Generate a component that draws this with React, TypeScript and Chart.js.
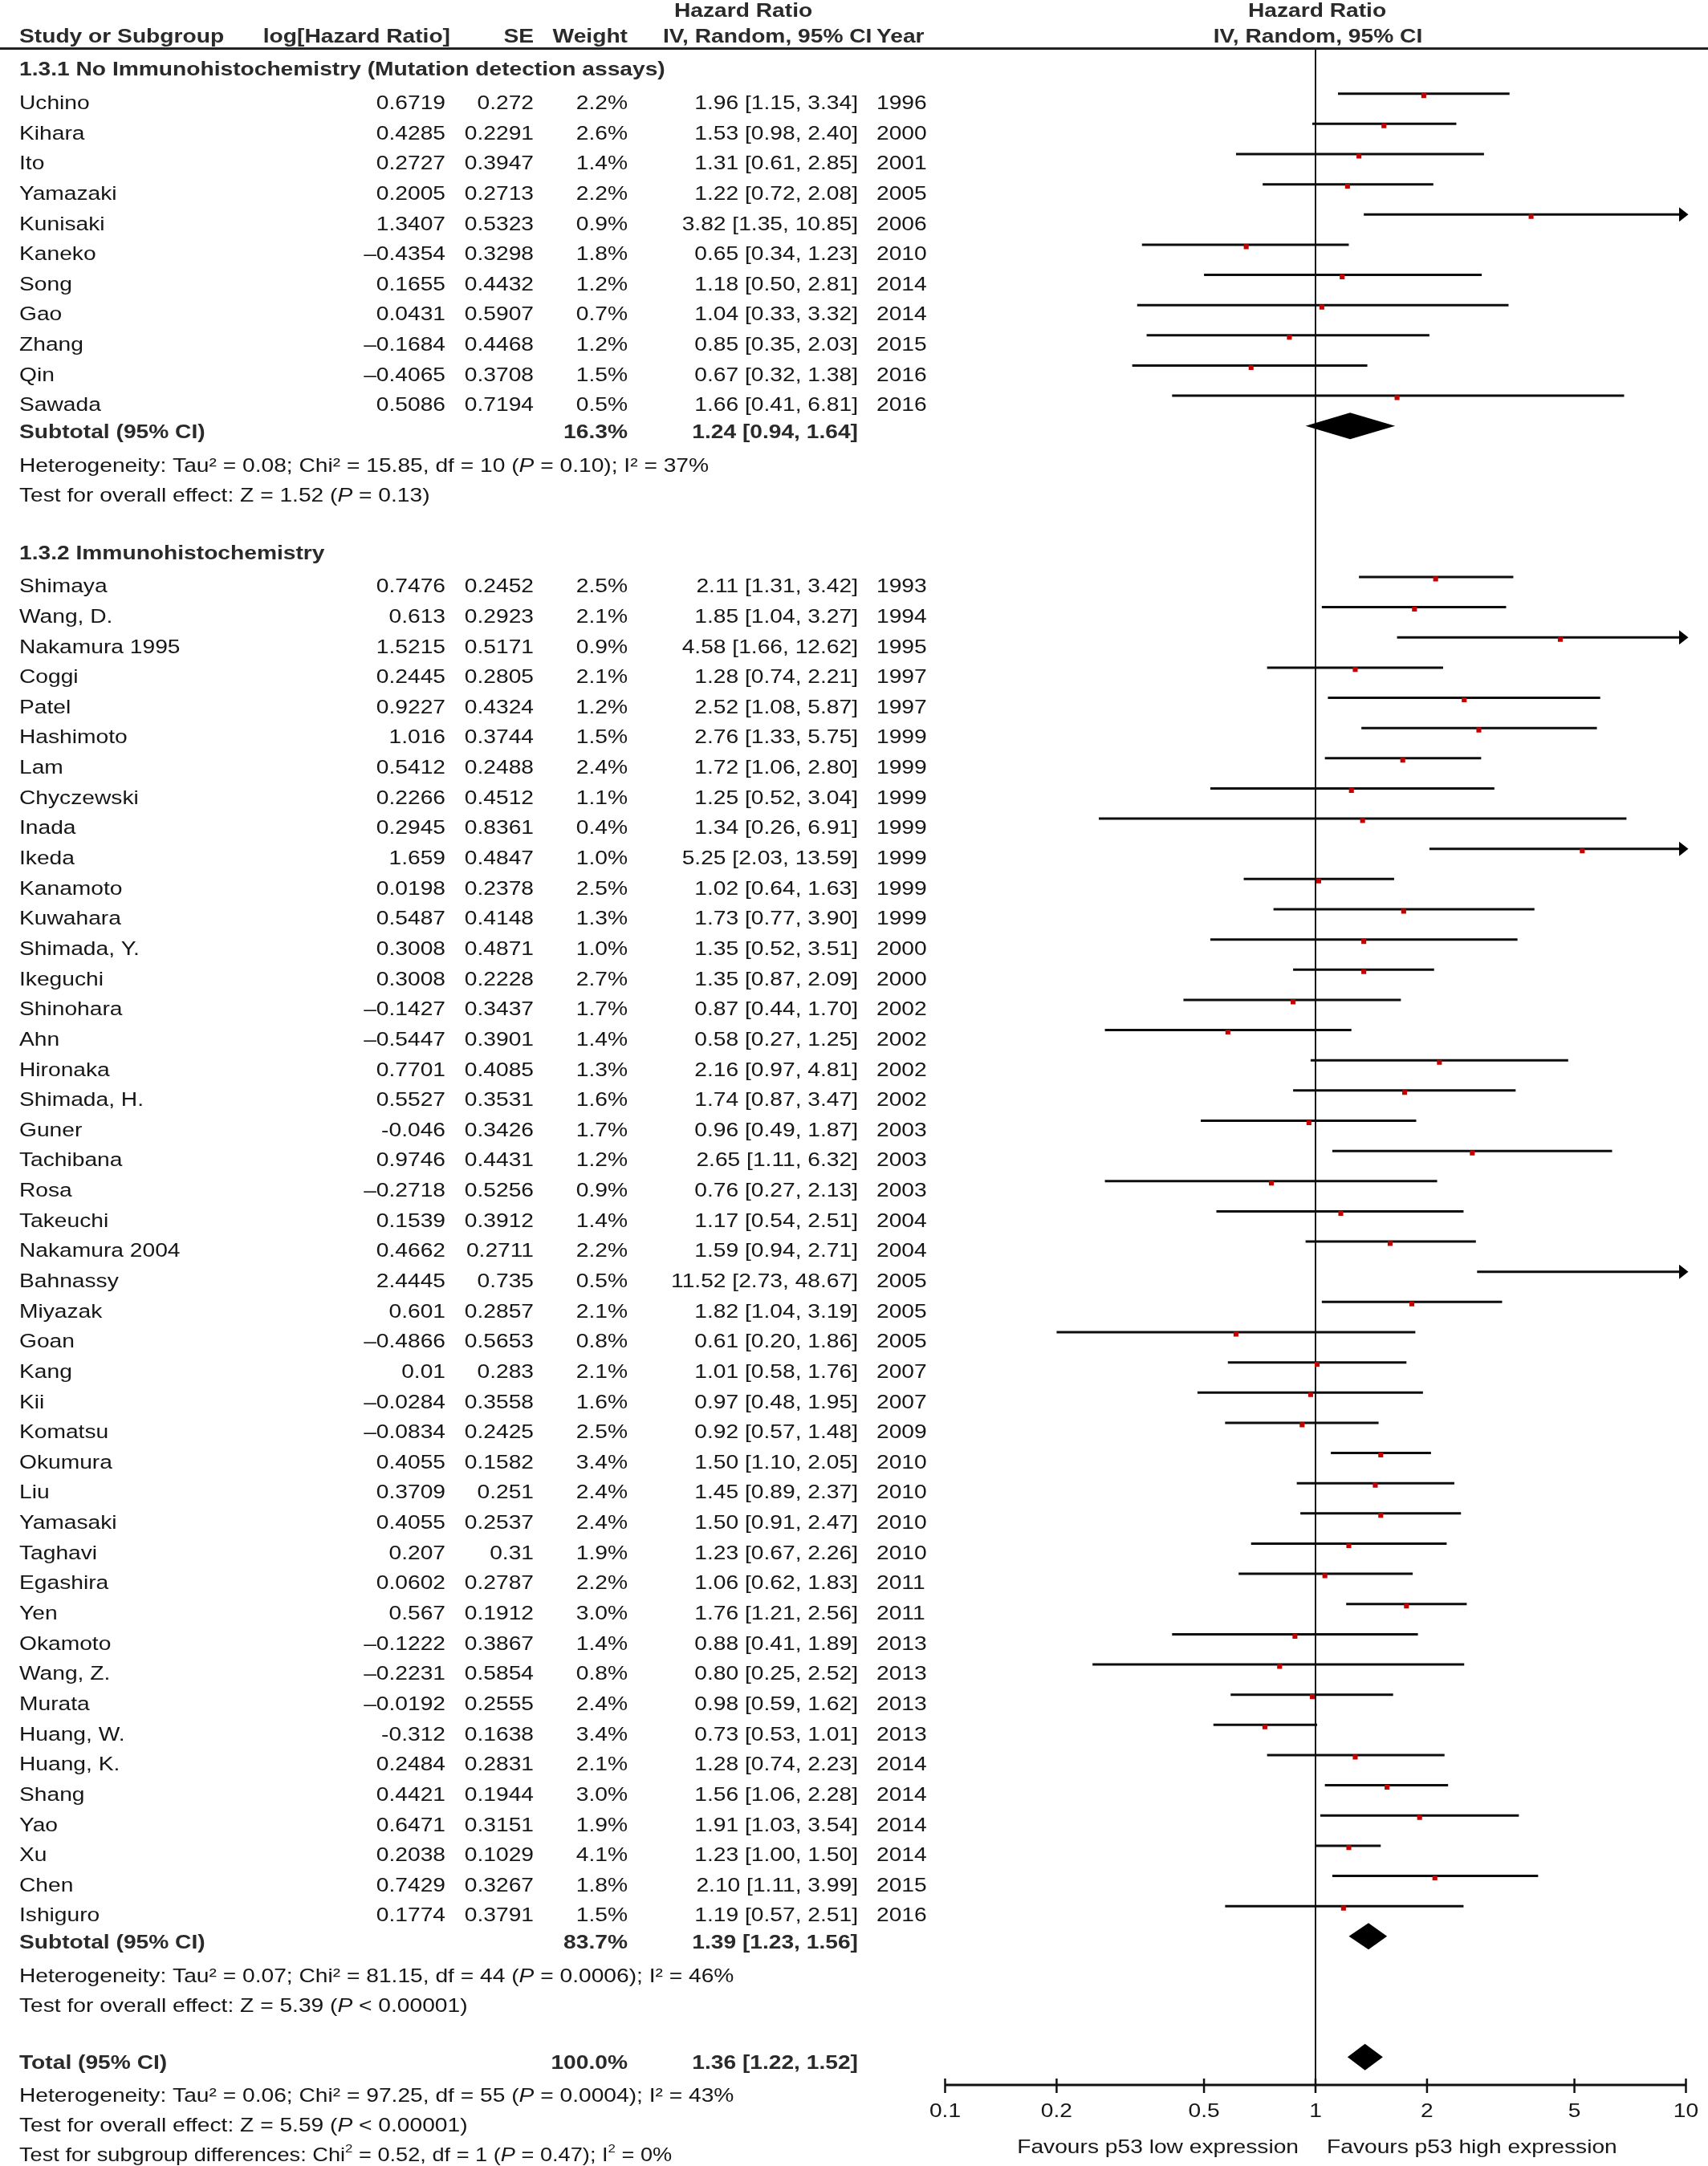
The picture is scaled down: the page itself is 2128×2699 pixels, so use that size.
import React, { useEffect, useRef } from 'react';
import { Chart, registerables } from 'chart.js';

Chart.register(...registerables);

const W = 2128;
const H = 2699;

// ---------- Data ----------
const group1Title = '1.3.1 No Immunohistochemistry (Mutation detection assays)';
const studies1 = ['Uchino', 'Kihara', 'Ito', 'Yamazaki', 'Kunisaki', 'Kaneko', 'Song', 'Gao', 'Zhang', 'Qin', 'Sawada'];
const logHR1 = ['0.6719', '0.4285', '0.2727', '0.2005', '1.3407', '\u20130.4354', '0.1655', '0.0431', '\u20130.1684', '\u20130.4065', '0.5086'];
const se1 = ['0.272', '0.2291', '0.3947', '0.2713', '0.5323', '0.3298', '0.4432', '0.5907', '0.4468', '0.3708', '0.7194'];
const weight1 = [2.2, 2.6, 1.4, 2.2, 0.9, 1.8, 1.2, 0.7, 1.2, 1.5, 0.5];
const hr1 = [1.96, 1.53, 1.31, 1.22, 3.82, 0.65, 1.18, 1.04, 0.85, 0.67, 1.66];
const lo1 = [1.15, 0.98, 0.61, 0.72, 1.35, 0.34, 0.5, 0.33, 0.35, 0.32, 0.41];
const hi1 = [3.34, 2.4, 2.85, 2.08, 10.85, 1.23, 2.81, 3.32, 2.03, 1.38, 6.81];
const year1 = [1996, 2000, 2001, 2005, 2006, 2010, 2014, 2014, 2015, 2016, 2016];

const group2Title = '1.3.2 Immunohistochemistry';
const studies2 = ['Shimaya', 'Wang, D.', 'Nakamura 1995', 'Coggi', 'Patel', 'Hashimoto', 'Lam', 'Chyczewski', 'Inada', 'Ikeda', 'Kanamoto', 'Kuwahara', 'Shimada, Y.', 'Ikeguchi', 'Shinohara', 'Ahn', 'Hironaka', 'Shimada, H.', 'Guner', 'Tachibana', 'Rosa', 'Takeuchi', 'Nakamura 2004', 'Bahnassy', 'Miyazak', 'Goan', 'Kang', 'Kii', 'Komatsu', 'Okumura', 'Liu', 'Yamasaki', 'Taghavi', 'Egashira', 'Yen', 'Okamoto', 'Wang, Z.', 'Murata', 'Huang, W.', 'Huang, K.', 'Shang', 'Yao', 'Xu', 'Chen', 'Ishiguro'];
const logHR2 = ['0.7476', '0.613', '1.5215', '0.2445', '0.9227', '1.016', '0.5412', '0.2266', '0.2945', '1.659', '0.0198', '0.5487', '0.3008', '0.3008', '\u20130.1427', '\u20130.5447', '0.7701', '0.5527', '-0.046', '0.9746', '\u20130.2718', '0.1539', '0.4662', '2.4445', '0.601', '\u20130.4866', '0.01', '\u20130.0284', '\u20130.0834', '0.4055', '0.3709', '0.4055', '0.207', '0.0602', '0.567', '\u20130.1222', '\u20130.2231', '\u20130.0192', '-0.312', '0.2484', '0.4421', '0.6471', '0.2038', '0.7429', '0.1774'];
const se2 = ['0.2452', '0.2923', '0.5171', '0.2805', '0.4324', '0.3744', '0.2488', '0.4512', '0.8361', '0.4847', '0.2378', '0.4148', '0.4871', '0.2228', '0.3437', '0.3901', '0.4085', '0.3531', '0.3426', '0.4431', '0.5256', '0.3912', '0.2711', '0.735', '0.2857', '0.5653', '0.283', '0.3558', '0.2425', '0.1582', '0.251', '0.2537', '0.31', '0.2787', '0.1912', '0.3867', '0.5854', '0.2555', '0.1638', '0.2831', '0.1944', '0.3151', '0.1029', '0.3267', '0.3791'];
const weight2 = [2.5, 2.1, 0.9, 2.1, 1.2, 1.5, 2.4, 1.1, 0.4, 1.0, 2.5, 1.3, 1.0, 2.7, 1.7, 1.4, 1.3, 1.6, 1.7, 1.2, 0.9, 1.4, 2.2, 0.5, 2.1, 0.8, 2.1, 1.6, 2.5, 3.4, 2.4, 2.4, 1.9, 2.2, 3.0, 1.4, 0.8, 2.4, 3.4, 2.1, 3.0, 1.9, 4.1, 1.8, 1.5];
const hr2 = [2.11, 1.85, 4.58, 1.28, 2.52, 2.76, 1.72, 1.25, 1.34, 5.25, 1.02, 1.73, 1.35, 1.35, 0.87, 0.58, 2.16, 1.74, 0.96, 2.65, 0.76, 1.17, 1.59, 11.52, 1.82, 0.61, 1.01, 0.97, 0.92, 1.5, 1.45, 1.5, 1.23, 1.06, 1.76, 0.88, 0.8, 0.98, 0.73, 1.28, 1.56, 1.91, 1.23, 2.1, 1.19];
const lo2 = [1.31, 1.04, 1.66, 0.74, 1.08, 1.33, 1.06, 0.52, 0.26, 2.03, 0.64, 0.77, 0.52, 0.87, 0.44, 0.27, 0.97, 0.87, 0.49, 1.11, 0.27, 0.54, 0.94, 2.73, 1.04, 0.2, 0.58, 0.48, 0.57, 1.1, 0.89, 0.91, 0.67, 0.62, 1.21, 0.41, 0.25, 0.59, 0.53, 0.74, 1.06, 1.03, 1.0, 1.11, 0.57];
const hi2 = [3.42, 3.27, 12.62, 2.21, 5.87, 5.75, 2.8, 3.04, 6.91, 13.59, 1.63, 3.9, 3.51, 2.09, 1.7, 1.25, 4.81, 3.47, 1.87, 6.32, 2.13, 2.51, 2.71, 48.67, 3.19, 1.86, 1.76, 1.95, 1.48, 2.05, 2.37, 2.47, 2.26, 1.83, 2.56, 1.89, 2.52, 1.62, 1.01, 2.23, 2.28, 3.54, 1.5, 3.99, 2.51];
const year2 = [1993, 1994, 1995, 1997, 1997, 1999, 1999, 1999, 1999, 1999, 1999, 1999, 2000, 2000, 2002, 2002, 2002, 2002, 2003, 2003, 2003, 2004, 2004, 2005, 2005, 2005, 2007, 2007, 2009, 2010, 2010, 2010, 2010, 2011, 2011, 2013, 2013, 2013, 2013, 2014, 2014, 2014, 2014, 2015, 2016];

const subtotalWeight = [16.3, 83.7];
const subtotalHR = [1.24, 1.39];
const subtotalLo = [0.94, 1.23];
const subtotalHi = [1.64, 1.56];
const totalWeight = 100.0;
const totalHR = 1.36;
const totalLo = 1.22;
const totalHi = 1.52;

type Seg = { t: string; s?: 'n' | 'b' | 'i'; sup?: boolean };
const het1: Seg[] = [{ t: 'Heterogeneity: Tau\u00b2 = 0.08; Chi\u00b2 = 15.85, df = 10 (' }, { t: 'P', s: 'i' }, { t: ' = 0.10); I\u00b2 = 37%' }];
const test1: Seg[] = [{ t: 'Test for overall effect: Z = 1.52 (' }, { t: 'P', s: 'i' }, { t: ' = 0.13)' }];
const het2: Seg[] = [{ t: 'Heterogeneity: Tau\u00b2 = 0.07; Chi\u00b2 = 81.15, df = 44 (' }, { t: 'P', s: 'i' }, { t: ' = 0.0006); I\u00b2 = 46%' }];
const test2: Seg[] = [{ t: 'Test for overall effect: Z = 5.39 (' }, { t: 'P', s: 'i' }, { t: ' < 0.00001)' }];
const hetT: Seg[] = [{ t: 'Heterogeneity: Tau\u00b2 = 0.06; Chi\u00b2 = 97.25, df = 55 (' }, { t: 'P', s: 'i' }, { t: ' = 0.0004); I\u00b2 = 43%' }];
const testT: Seg[] = [{ t: 'Test for overall effect: Z = 5.59 (' }, { t: 'P', s: 'i' }, { t: ' < 0.00001)' }];
const subgroupTest: Seg[] = [{ t: 'Test for subgroup differences: Chi' }, { t: '2', sup: true }, { t: ' = 0.52, df = 1 (' }, { t: 'P', s: 'i' }, { t: ' = 0.47); I' }, { t: '2', sup: true }, { t: ' = 0%' }];

const xTicks = [0.1, 0.2, 0.5, 1, 2, 5, 10];
const xTickLabels = ['0.1', '0.2', '0.5', '1', '2', '5', '10'];
const favoursLeft = 'Favours p53 low expression';
const favoursRight = 'Favours p53 high expression';
const headerCols = ['Study or Subgroup', 'log[Hazard Ratio]', 'SE', 'Weight', 'IV, Random, 95% CI', 'Year'];
const effectTitle = 'Hazard Ratio';
const effectSub = 'IV, Random, 95% CI';

// ---------- Layout / style ----------
const FS = 24.5;
const SX = 1.15;
const FAM = '"Liberation Sans", Arial, Helvetica, sans-serif';
const TXT = '#161616';
const TXT_B = '#2a2a2a';
const X_NAME = 24;
const X_LOG = 555;
const X_SE = 665;
const X_W = 782;
const X_CI = 1069;
const X_YEAR = 1092;
const Y_MIN = -1.48;
const Y_MAX = 65.92;
const TEXT_OFF = 19.3;

function fontFor(s: string | undefined, size: number) {
  return `${s === 'b' ? 'bold ' : ''}${s === 'i' ? 'italic ' : ''}${size}px ${FAM}`;
}

function drawRich(ctx: CanvasRenderingContext2D, segs: Seg[], x: number, y: number, align: 'left' | 'right' | 'center', bold = false, sxMul = 1) {
  const sx = SX * sxMul;
  let w = 0;
  for (const sg of segs) {
    ctx.font = fontFor(sg.s || (bold ? 'b' : 'n'), sg.sup ? FS * 0.62 : FS);
    w += ctx.measureText(sg.t).width * sx;
  }
  let cx = align === 'left' ? x : align === 'right' ? x - w : x - w / 2;
  ctx.save();
  ctx.textAlign = 'left';
  ctx.textBaseline = 'alphabetic';
  ctx.fillStyle = bold ? TXT_B : TXT;
  for (const sg of segs) {
    const size = sg.sup ? FS * 0.62 : FS;
    ctx.font = fontFor(sg.s || (bold ? 'b' : 'n'), size);
    const mw = ctx.measureText(sg.t).width * sx;
    ctx.save();
    ctx.translate(cx, y - (sg.sup ? FS * 0.45 : 0));
    ctx.scale(sx, 1);
    ctx.fillText(sg.t, 0, 0);
    ctx.restore();
    cx += mw;
  }
  ctx.restore();
}

function txt(ctx: CanvasRenderingContext2D, t: string, x: number, y: number, align: 'left' | 'right' | 'center', bold = false) {
  drawRich(ctx, [{ t }], x, y, align, bold);
}

const fmtCI = (h: number, l: number, u: number) => `${h.toFixed(2)} [${l.toFixed(2)}, ${u.toFixed(2)}]`;

// row positions
const g1Header = -1;
const g1Start = 0;
const sub1Row = g1Start + studies1.length;
const g2Header = sub1Row + 4;
const g2Start = g2Header + 1;
const sub2Row = g2Start + studies2.length;
const totalRow = sub2Row + 4;

type Study = { name: string; lg: string; se: string; w: number; hr: number; lo: number; hi: number; yr: number; row: number };
const allStudies: Study[] = [
  ...studies1.map((n, i) => ({ name: n, lg: logHR1[i], se: se1[i], w: weight1[i], hr: hr1[i], lo: lo1[i], hi: hi1[i], yr: year1[i], row: g1Start + i })),
  ...studies2.map((n, i) => ({ name: n, lg: logHR2[i], se: se2[i], w: weight2[i], hr: hr2[i], lo: lo2[i], hi: hi2[i], yr: year2[i], row: g2Start + i })),
];

const diamonds = [
  { hr: subtotalHR[0], lo: subtotalLo[0], hi: subtotalHi[0], row: sub1Row },
  { hr: subtotalHR[1], lo: subtotalLo[1], hi: subtotalHi[1], row: sub2Row },
  { hr: totalHR, lo: totalLo, hi: totalHi, row: totalRow },
];

const XMAX = 10;
const XMIN = 0.1;

const forestPlugin = {
  id: 'forest',
  beforeDatasetsDraw(chart: any) {
    const ctx: CanvasRenderingContext2D = chart.ctx;
    const xs = chart.scales.x;
    const area = chart.chartArea;
    const x1 = xs.getPixelForValue(1);
    ctx.save();
    ctx.strokeStyle = '#1a1a1a';
    ctx.lineWidth = 2;
    ctx.beginPath();
    ctx.moveTo(x1, area.top);
    ctx.lineTo(x1, area.bottom);
    ctx.stroke();
    ctx.restore();
  },
  afterDraw(chart: any) {
    const ctx: CanvasRenderingContext2D = chart.ctx;
    const xs = chart.scales.x;
    const ys = chart.scales.y;
    const area = chart.chartArea;
    const rowY = (r: number) => ys.getPixelForValue(r);
    const base = (r: number) => rowY(r) + TEXT_OFF;

    // header rule
    ctx.save();
    ctx.strokeStyle = '#222';
    ctx.lineWidth = 3;
    ctx.beginPath();
    ctx.moveTo(0, area.top - 0.5);
    ctx.lineTo(W, area.top - 0.5);
    ctx.stroke();
    ctx.restore();

    // arrows for CIs beyond the axis
    ctx.save();
    ctx.fillStyle = '#000';
    for (const s of allStudies) {
      if (s.hi > XMAX) {
        const px = xs.getPixelForValue(XMAX);
        const py = rowY(s.row);
        ctx.beginPath();
        ctx.moveTo(px + 3, py);
        ctx.lineTo(px - 8.5, py - 9);
        ctx.lineTo(px - 8.5, py + 9);
        ctx.closePath();
        ctx.fill();
      }
    }
    // diamonds
    for (const d of diamonds) {
      const py = rowY(d.row);
      ctx.beginPath();
      ctx.moveTo(xs.getPixelForValue(d.lo), py);
      ctx.lineTo(xs.getPixelForValue(d.hr), py - 16.5);
      ctx.lineTo(xs.getPixelForValue(d.hi), py);
      ctx.lineTo(xs.getPixelForValue(d.hr), py + 16.5);
      ctx.closePath();
      ctx.fill();
    }
    ctx.restore();

    // axis
    const ay = area.bottom;
    ctx.save();
    ctx.strokeStyle = '#111';
    ctx.lineWidth = 3;
    ctx.beginPath();
    ctx.moveTo(xs.getPixelForValue(XMIN), ay);
    ctx.lineTo(xs.getPixelForValue(XMAX), ay);
    ctx.stroke();
    ctx.lineWidth = 2.5;
    xTicks.forEach((t) => {
      const px = xs.getPixelForValue(t);
      ctx.beginPath();
      ctx.moveTo(px, ay - 8);
      ctx.lineTo(px, ay + 10);
      ctx.stroke();
    });
    ctx.restore();
    xTicks.forEach((t, i) => txt(ctx, xTickLabels[i], xs.getPixelForValue(t), ay + 40, 'center'));
    const x1 = xs.getPixelForValue(1);
    txt(ctx, favoursLeft, x1 - 21, ay + 85, 'right');
    txt(ctx, favoursRight, x1 + 14, ay + 85, 'left');

    // right headers
    txt(ctx, effectTitle, x1 + 2, 21, 'center', true);
    txt(ctx, effectSub, x1 + 3, 53, 'center', true);

    // left headers
    txt(ctx, effectTitle, 840, 21, 'left', true);
    txt(ctx, headerCols[0], X_NAME, 53, 'left', true);
    txt(ctx, headerCols[1], 561, 53, 'right', true);
    txt(ctx, headerCols[2], X_SE, 53, 'right', true);
    txt(ctx, headerCols[3], X_W, 53, 'right', true);
    txt(ctx, headerCols[4], 826, 53, 'left', true);
    txt(ctx, headerCols[5], X_YEAR, 53, 'left', true);

    // group headers
    txt(ctx, group1Title, X_NAME, base(g1Header) - 4, 'left', true);
    txt(ctx, group2Title, X_NAME, base(g2Header) - 4, 'left', true);

    // study rows
    for (const s of allStudies) {
      const y = base(s.row);
      txt(ctx, s.name, X_NAME, y, 'left');
      txt(ctx, s.lg, X_LOG, y, 'right');
      txt(ctx, s.se, X_SE, y, 'right');
      txt(ctx, s.w.toFixed(1) + '%', X_W, y, 'right');
      txt(ctx, fmtCI(s.hr, s.lo, s.hi), X_CI, y, 'right');
      txt(ctx, String(s.yr), X_YEAR, y, 'left');
    }

    // subtotals
    [sub1Row, sub2Row].forEach((r, i) => {
      const y = base(r) - 4;
      txt(ctx, 'Subtotal (95% CI)', X_NAME, y, 'left', true);
      txt(ctx, subtotalWeight[i].toFixed(1) + '%', X_W, y, 'right', true);
      txt(ctx, fmtCI(subtotalHR[i], subtotalLo[i], subtotalHi[i]), X_CI, y, 'right', true);
    });
    drawRich(ctx, het1, X_NAME, base(sub1Row + 1), 'left');
    drawRich(ctx, test1, X_NAME, base(sub1Row + 2), 'left');
    drawRich(ctx, het2, X_NAME, base(sub2Row + 1), 'left');
    drawRich(ctx, test2, X_NAME, base(sub2Row + 2), 'left');

    // total
    const ty = base(totalRow) - 5;
    txt(ctx, 'Total (95% CI)', X_NAME, ty, 'left', true);
    txt(ctx, totalWeight.toFixed(1) + '%', X_W, ty, 'right', true);
    txt(ctx, fmtCI(totalHR, totalLo, totalHi), X_CI, ty, 'right', true);
    drawRich(ctx, hetT, X_NAME, base(totalRow + 1) - 1, 'left');
    drawRich(ctx, testT, X_NAME, base(totalRow + 2) - 2, 'left');
    drawRich(ctx, subgroupTest, X_NAME, base(totalRow + 3) - 3, 'left', false, 0.965);
  },
};

export default function App() {
  const ref = useRef<HTMLCanvasElement | null>(null);
  useEffect(() => {
    const canvas = ref.current;
    if (!canvas) return;
    const ciData: any[] = [];
    allStudies.forEach((s) => {
      ciData.push({ x: Math.max(s.lo, XMIN), y: s.row });
      ciData.push({ x: Math.min(s.hi, XMAX), y: s.row });
      ciData.push({ x: NaN, y: NaN });
    });
    const ptData = allStudies.filter((s) => s.hr <= XMAX && s.hr >= XMIN).map((s) => ({ x: s.hr, y: s.row + 0.065 }));
    const chart = new Chart(canvas, {
      type: 'scatter',
      data: {
        datasets: [
          {
            data: ciData,
            showLine: true,
            spanGaps: false,
            borderColor: '#0d0d0d',
            borderWidth: 3,
            borderCapStyle: 'butt',
            pointRadius: 0,
            order: 2,
          } as any,
          {
            data: ptData,
            showLine: false,
            pointStyle: 'rect',
            pointRadius: 4.3,
            backgroundColor: '#c40000',
            borderWidth: 0,
            order: 1,
          } as any,
        ],
      },
      options: {
        animation: false,
        responsive: false,
        maintainAspectRatio: false,
        devicePixelRatio: 1,
        events: [],
        layout: { padding: { left: 1177.5, right: W - 2100.5, top: 61, bottom: H - 2598 } },
        plugins: { legend: { display: false }, tooltip: { enabled: false } },
        scales: {
          x: { type: 'logarithmic', min: XMIN, max: XMAX, display: false },
          y: { type: 'linear', min: Y_MIN, max: Y_MAX, reverse: true, display: false },
        },
      },
      plugins: [forestPlugin],
    });
    return () => chart.destroy();
  }, []);
  return (
    <div style={{ position: 'absolute', left: 0, top: 0, width: W, height: H, background: '#fff' }}>
      <canvas ref={ref} width={W} height={H} style={{ display: 'block' }} />
    </div>
  );
}
